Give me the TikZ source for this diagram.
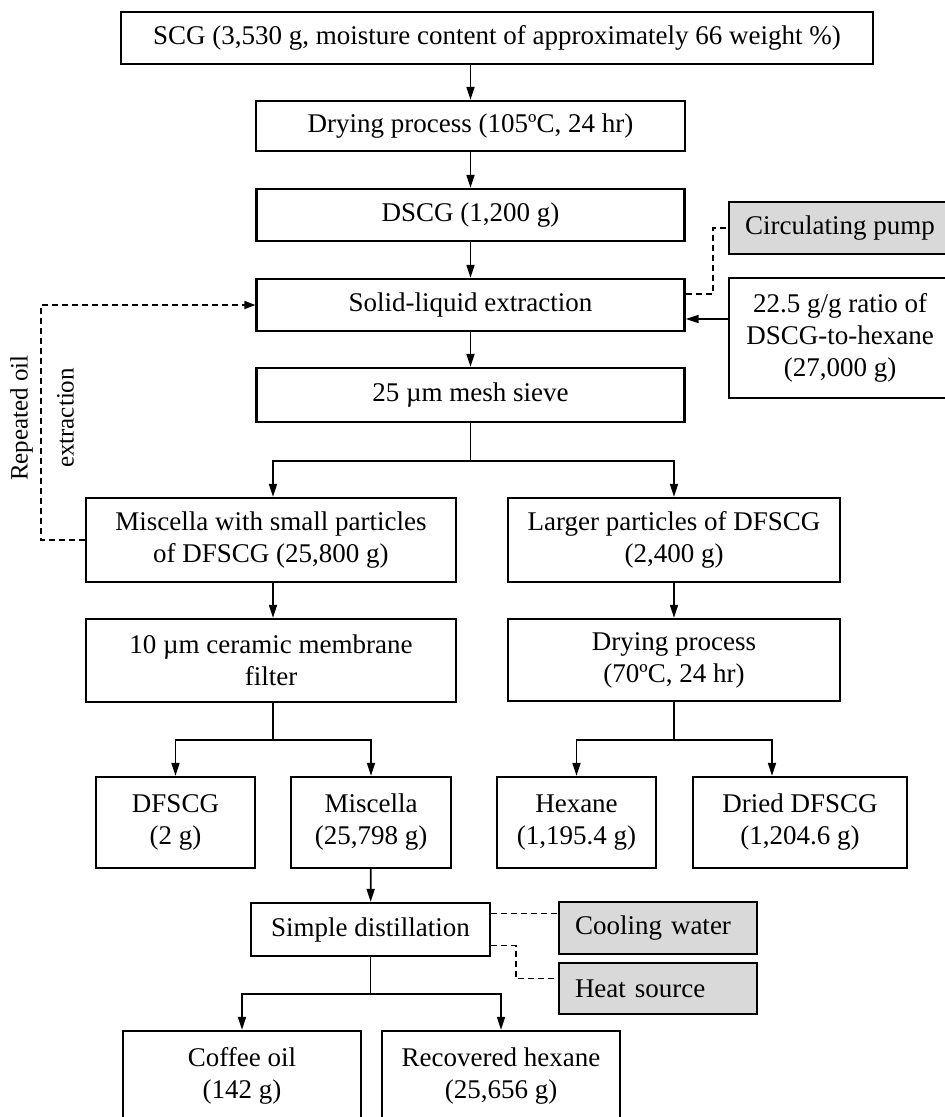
\documentclass[tikz,border=0pt]{standalone}
\usepackage{fontspec}
\setmainfont{Liberation Serif}
\usetikzlibrary{arrows.meta}
\begin{document}
\begin{tikzpicture}[x=1pt,y=-1pt,
  box/.style={draw=black,line width=2.3pt,rectangle,inner sep=0pt,align=center,font=\fontsize{27}{32}\selectfont},
  gbox/.style={box,fill=gray!30},
  arr/.style={line width=1.7pt,-{Triangle[length=13pt,width=8pt]}},
  ln/.style={line width=1.7pt},
  dsh/.style={line width=1.7pt,dash pattern=on 6pt off 4pt},
  darr/.style={dsh,-{Triangle[length=11pt,width=8pt]}}]
\useasboundingbox (0,0) rectangle (945,1117);
\clip (0,0) rectangle (945,1117);
\node[box,minimum width=752,minimum height=52] (scg) at (497,38) {SCG (3,530 g, moisture content of approximately 66 weight \%)};
\node[box,minimum width=429,minimum height=50] (dry1) at (470.5,126) {Drying process (105ºC, 24 hr)};
\node[box,minimum width=428,minimum height=52] (dscg) at (470.5,215) {DSCG (1,200 g)};
\node[box,minimum width=428,minimum height=52] (sle) at (470.5,305) {Solid-liquid extraction};
\node[box,minimum width=428,minimum height=54] (sieve) at (470.5,395) {25 µm mesh sieve};
\node[gbox,minimum width=222,minimum height=52] (pump) at (840,228) {Circulating pump};
\node[box,minimum width=222,minimum height=120] (ratio) at (840,338) {22.5 g/g ratio of\\DSCG-to-hexane\\(27,000 g)};
\node[box,minimum width=370,minimum height=84] (misc) at (271,540) {Miscella with small particles\\of DFSCG (25,800 g)};
\node[box,minimum width=332,minimum height=84] (larger) at (674,540) {Larger particles of DFSCG\\(2,400 g)};
\node[box,minimum width=370,minimum height=83] (memb) at (271,660.5) {10 µm ceramic membrane\\filter};
\node[box,minimum width=332,minimum height=82] (dry2) at (674,660) {Drying process\\(70ºC, 24 hr)};
\node[box,minimum width=159,minimum height=91] (dfscg) at (175.5,822.5) {DFSCG\\(2 g)};
\node[box,minimum width=160,minimum height=91] (misc2) at (371,822.5) {Miscella\\(25,798 g)};
\node[box,minimum width=159,minimum height=91] (hex) at (576.5,822.5) {Hexane\\(1,195.4 g)};
\node[box,minimum width=214,minimum height=91] (dried) at (800,822.5) {Dried DFSCG\\(1,204.6 g)};
\node[box,minimum width=239,minimum height=53] (dist) at (370.5,929.5) {Simple distillation};
\node[gbox,minimum width=198,minimum height=52,text width=166,align=left] (cool) at (658,928) {Cooling water};
\node[gbox,minimum width=198,minimum height=51,text width=166,align=left] (heat) at (658,988.5) {Heat source};
\node[box,minimum width=238,minimum height=90] (coffee) at (242,1076) {Coffee oil\\(142 g)};
\node[box,minimum width=238,minimum height=90] (recov) at (501,1076) {Recovered hexane\\(25,656 g)};
\node[rotate=90,align=center,font=\fontsize{25}{46}\selectfont] (rep) at (42,418) {Repeated oil\\extraction};
% main vertical flow
\draw[arr] (dry1.north |- scg.south) -- (dry1.north);
\draw[arr] (dry1) -- (dscg);
\draw[arr] (dscg) -- (sle);
\draw[arr] (sle) -- (sieve);
% sieve split
\coordinate (j1) at (470.5,461);
\draw[ln] (sieve.south) -- (j1);
\draw[arr] (j1) -| ([xshift=2pt]misc.north);
\draw[arr] (j1) -| (larger.north);
\draw[arr] ([xshift=2pt]misc.south) -- ([xshift=2pt]memb.north);
\draw[arr] (larger) -- (dry2);
% membrane split
\coordinate (j2) at (273,740);
\draw[ln] ([xshift=2pt]memb.south) -- (j2);
\draw[arr] (j2) -| (dfscg.north);
\draw[arr] (j2) -| (misc2.north);
% drying split
\coordinate (j3) at (674,740);
\draw[ln] (dry2.south) -- (j3);
\draw[arr] (j3) -| (hex.north);
\draw[arr] (j3) -| ([xshift=-28pt]dried.north);
% distillation
\draw[arr] (misc2) -- (dist);
\coordinate (j4) at (370.5,994);
\draw[ln] (dist.south) -- (j4);
\draw[arr] (j4) -| (coffee.north);
\draw[arr] (j4) -| (recov.north);
% side inputs
\draw[arr] ([yshift=-14pt]sle.east -| ratio.west) -- ([yshift=-14pt]sle.east);
\draw[dsh] ([yshift=11pt]sle.east) -- ++(27,0) |- (pump.west);
\draw[darr] (misc.west) -- ++(-44,0) |- (sle.west);
\draw[dsh] ([yshift=16pt]dist.east) -- ([yshift=16pt]dist.east -| cool.west);
\draw[dsh] ([yshift=-16pt]dist.east) -- ++(25,0) |- ([yshift=10pt]heat.west);
\end{tikzpicture}
\end{document}
